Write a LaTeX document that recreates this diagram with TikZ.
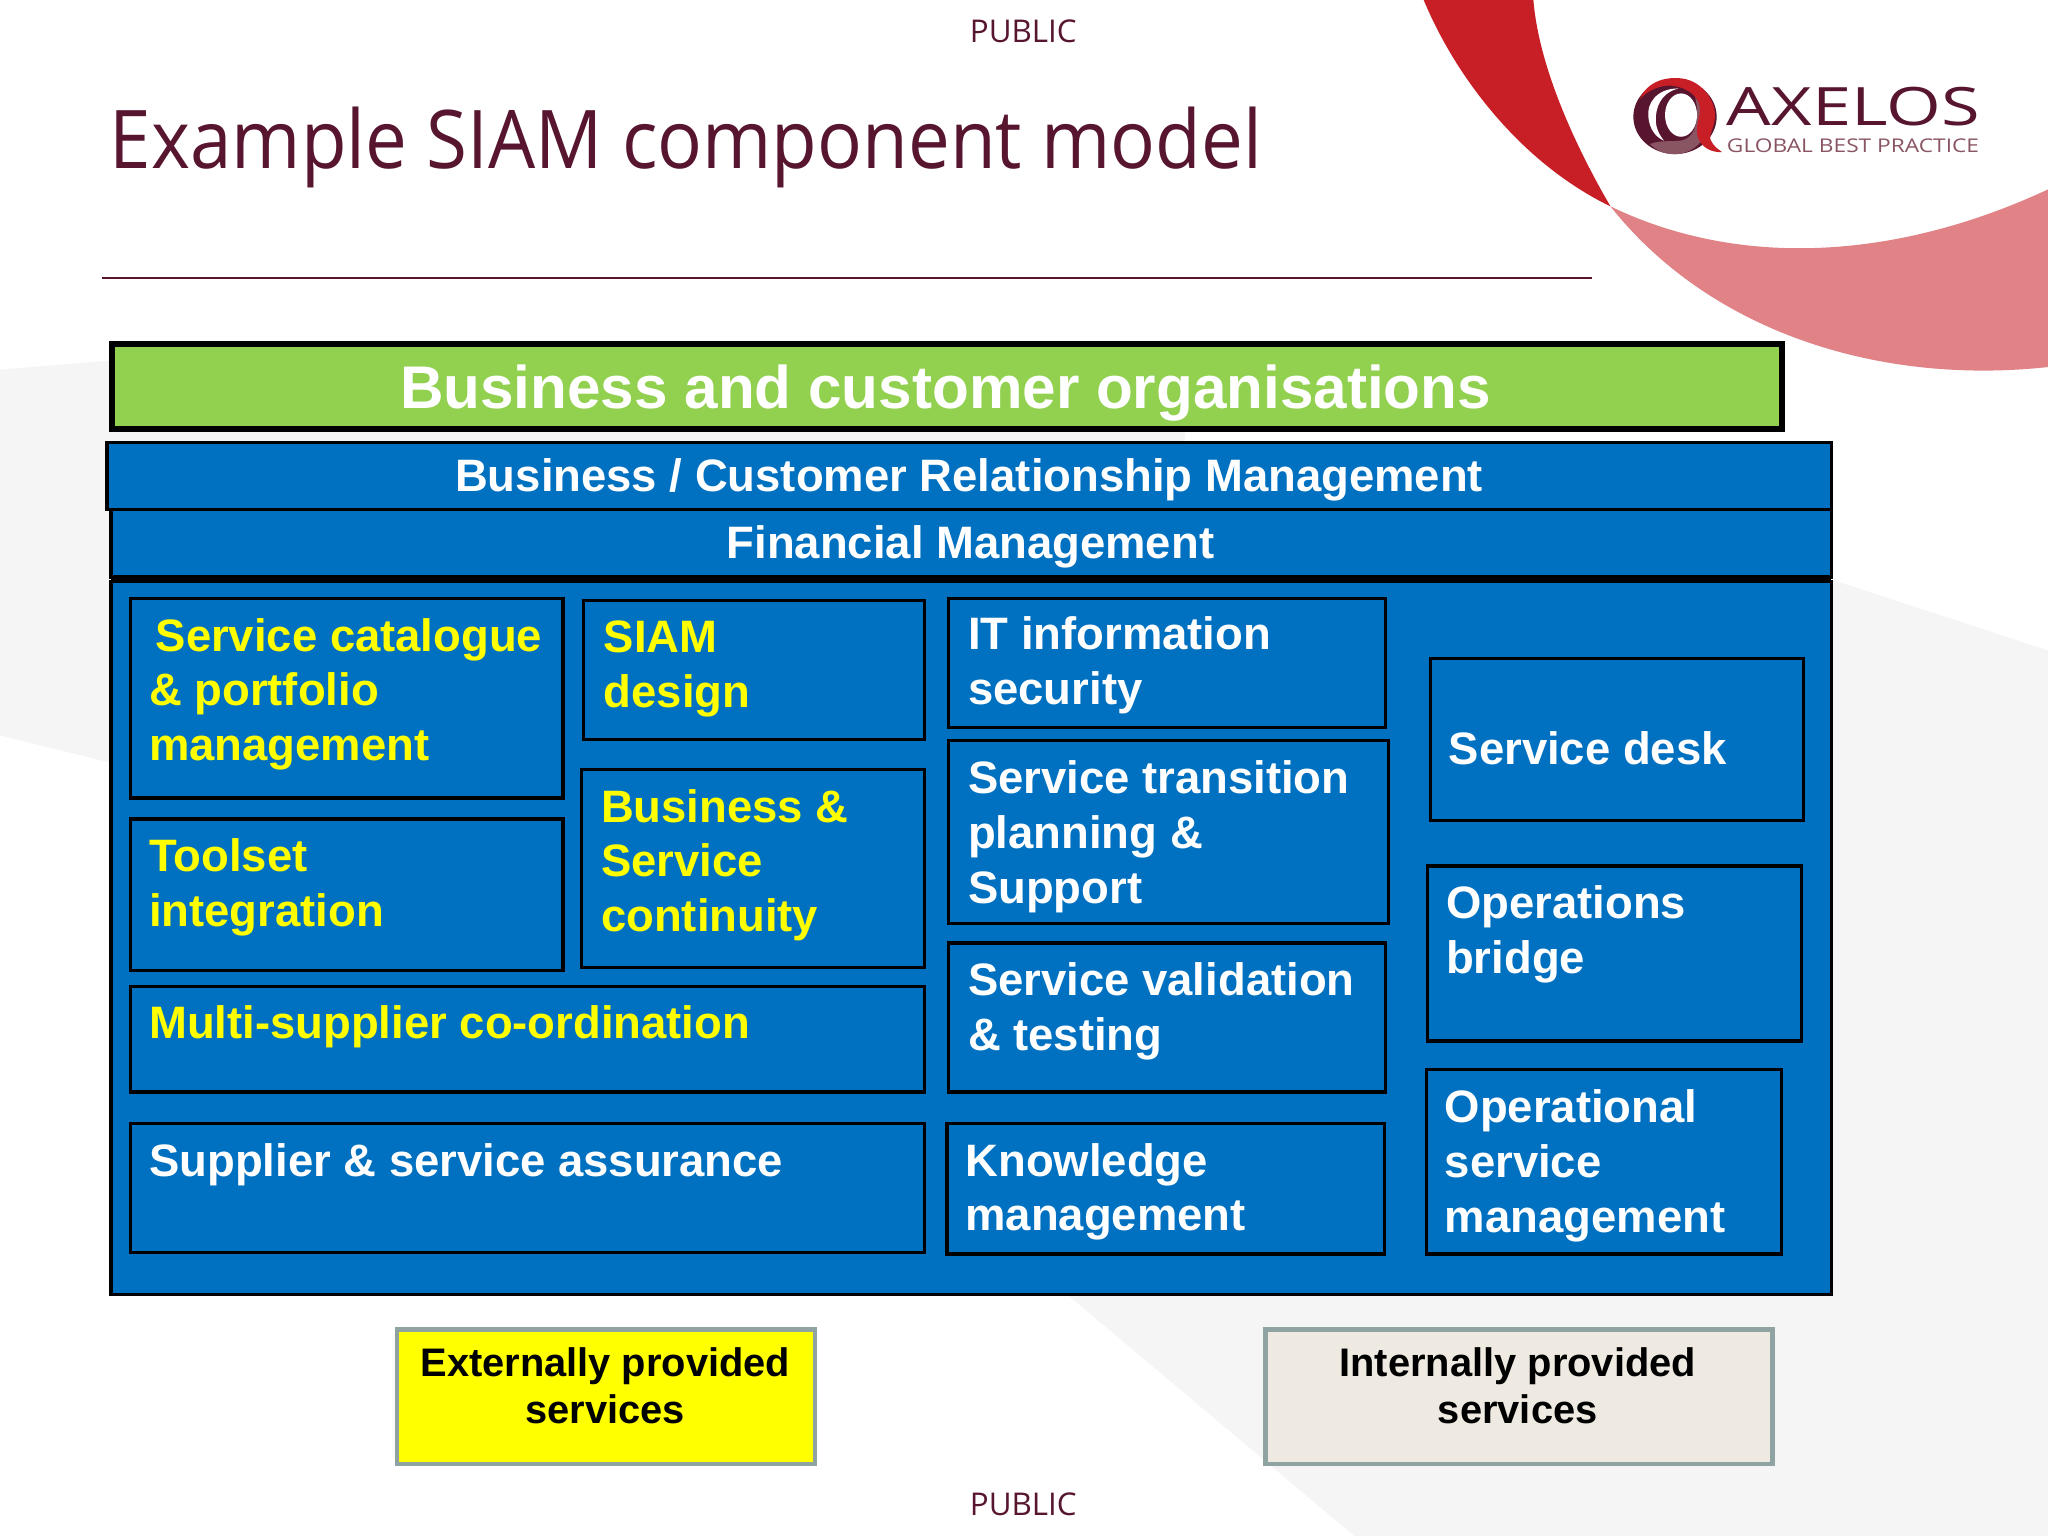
\documentclass[tikz,border=0pt]{standalone}
\usepackage{fontspec}
\setmainfont{Liberation Sans}
\newfontfamily\titlefont[FakeStretch=0.92]{Open Sans}
\newfontfamily\publicfont{Open Sans}
\newfontfamily\logofont[FakeStretch=1.33]{Open Sans}
\newfontfamily\logosubfont[FakeStretch=1.2]{Open Sans}
\definecolor{maroon}{HTML}{57152F}
\definecolor{swred}{HTML}{C81E26}
\definecolor{swpink}{HTML}{E08286}
\definecolor{ringmid}{HTML}{8A5563}
\definecolor{blue}{HTML}{0070C0}
\definecolor{leaf}{HTML}{92D050}
\definecolor{edgegrey}{HTML}{8FA3A3}
\definecolor{paper}{HTML}{EEEAE1}
\definecolor{faint}{HTML}{F5F5F5}
\definecolor{yel}{HTML}{FFFF00}
\tikzset{
 x=1pt,y=-1pt,
 panel/.style={draw=black,fill=blue,line width=2.5pt,rectangle,inner sep=0pt,outer sep=0pt},
 comp/.style={draw=black,fill=blue,line width=2.5pt,rectangle,inner sep=0pt,outer sep=0pt},
 lab/.style={anchor=north west,align=left,inner sep=0pt,font=\fontsize{34.8}{42}\selectfont\bfseries},
 headlab/.style={inner sep=0pt,text=white,font=\fontsize{34.8}{42}\selectfont\bfseries},
 legend/.style={draw=edgegrey,line width=3.5pt,rectangle,inner sep=0pt,outer sep=0pt},
 legendlab/.style={inner sep=0pt,align=center,font=\fontsize{30.5}{36.5}\selectfont\bfseries},
 public/.style={inner sep=0pt,text=maroon,font=\publicfont\fontsize{24}{28}\selectfont},
}
% name, x1, y1, x2, y2, text x, text top y, colour, text
\newcommand{\compbox}[9]{%
 \path let \p1=(#2,#3), \p2=(#4,#5) in
  node[comp,minimum width=\x2-\x1,minimum height=\y1-\y2,anchor=north west] (#1) at (\p1) {};
 \node[lab,text=#8] (#1-t) at (#6,#7) {#9};
}
\usetikzlibrary{calc}
\begin{document}
\begin{tikzpicture}
\useasboundingbox (0,0) rectangle (1568,1176);
\fill[white] (0,0) rectangle (1568,1176);
% faint background
\fill[faint] (0,283) -- (85,276) -- (85,584) -- (0,563) -- cycle;
\fill[faint] (85,326) rectangle (907,342);
\fill[faint] (817,991) -- (1403,991) -- (1403,444) -- (1568,498) -- (1568,1176) -- (1037,1176) -- cycle;
% swooshes
\fill[swred] (1090,0) .. controls (1115,60) and (1165,125) .. (1233,158)
  .. controls (1205,110) and (1178,50) .. (1174,0) -- cycle;
\fill[swpink] (1233,158) .. controls (1330,205) and (1450,200) .. (1568,145)
  -- (1568,281) .. controls (1440,295) and (1310,255) .. (1233,158) -- cycle;
% logo, drawn in the coordinates of a 3x crop
\begin{scope}[shift={(1225,46)},x=0.2552pt,y=-0.2552pt]
 \fill[maroon] (225,170) ellipse (125 and 112);
 \fill[ringmid] (150,252) .. controls (190,295) and (270,295) .. (310,235)
   .. controls (335,190) and (310,140) .. (285,110)
   .. controls (300,170) and (290,240) .. (235,242) .. controls (205,245) and (180,240) .. (150,252) -- cycle;
 \fill[white] (235,85) .. controls (170,85) and (140,130) .. (145,170)
   .. controls (148,205) and (165,230) .. (192,242)
   .. controls (170,215) and (165,190) .. (168,165)
   .. controls (172,125) and (195,95) .. (235,85) -- cycle;
 \fill[white] (243,165) ellipse (48 and 65);
 \fill[swred] (118,118) .. controls (145,60) and (200,50) .. (245,55)
   .. controls (305,62) and (345,120) .. (345,165)
   .. controls (345,200) and (325,225) .. (332,240)
   .. controls (340,258) and (355,268) .. (366,276)
   .. controls (335,278) and (300,262) .. (292,225)
   .. controls (285,185) and (310,160) .. (295,125)
   .. controls (280,90) and (225,70) .. (190,78)
   .. controls (160,84) and (135,100) .. (118,118) -- cycle;
\end{scope}
\node[inner sep=0pt,anchor=base west,text=maroon,font=\logofont\fontsize{40.5}{41}\selectfont] (axelos) at (1322,96) {AXELOS};
\node[inner sep=0pt,anchor=base west,text=ringmid,font=\logosubfont\fontsize{14.5}{15}\selectfont] (gbp) at (1322,116.5) {GLOBAL BEST PRACTICE};
% header
\node[public] (pubtop) at (783.5,24) {PUBLIC};
\node[public] (pubbot) at (783.5,1152) {PUBLIC};
\node[inner sep=0pt,anchor=base west,text=maroon,font=\titlefont\fontsize{62}{62}\selectfont] (title) at (84,129) {Example SIAM component model};
\coordinate (ruleL) at (78,213); \coordinate (ruleR) at (1219,213);
\draw[maroon,line width=1.3pt] (ruleL) -- (ruleR);
% frames
\node[draw=black,fill=leaf,line width=4.5pt,rectangle,inner sep=0pt,outer sep=0pt,minimum width=1279pt,minimum height=65pt,anchor=north west] (bco) at (85.5,263.5) {};
\node[inner sep=0pt,text=white,font=\fontsize{46.1}{50}\selectfont\bfseries] (bcot) at (724,301) {Business and customer organisations};
\node[panel,minimum width=1317pt,minimum height=546pt,anchor=north west] (main) at (85,445) {};
\node[panel,minimum width=1317pt,minimum height=52pt,anchor=north west] (fm) at (85,390) {};
\node[headlab] (fmt) at (743,419) {Financial Management};
\draw[black,line width=4pt] (fm.south west) -- (fm.south east);
\node[panel,minimum width=1320pt,minimum height=51pt,anchor=north west] (brm) at (82,339) {};
\node[headlab] (brmt) at (742,367) {Business / Customer Relationship Management};
% components
\compbox{scp}{100}{458}{431}{611}{114}{473}{yel}{\hspace*{5pt}Service catalogue\\\& portfolio\\management}
\compbox{design}{447}{460}{708}{566}{462}{475}{yel}{SIAM\\design}
\compbox{infosec}{726}{458}{1061}{557}{741}{472}{white}{IT information\\security}
\compbox{desk}{1095}{504}{1381}{628}{1109}{560}{white}{Service desk}
\compbox{toolset}{100}{627}{431}{743}{114}{642}{yel}{Toolset\\integration}
\compbox{bsc}{445}{589}{708}{741}{460}{604}{yel}{Business \&\\Service\\continuity}
\compbox{transition}{726}{567}{1063}{707}{741}{582}{white}{Service transition\\planning \&\\Support}
\compbox{bridge}{1093}{663}{1379}{797}{1107}{678}{white}{Operations\\bridge}
\compbox{multi}{100}{755}{708}{836}{114}{770}{yel}{Multi-supplier co-ordination}
\compbox{validation}{726}{722}{1061}{836}{741}{737}{white}{Service validation\\\& testing}
\compbox{assurance}{100}{860}{708}{959}{114}{875}{white}{Supplier \& service assurance}
\compbox{knowledge}{725}{860}{1060}{960}{739}{875}{white}{Knowledge\\management}
\compbox{opsmgmt}{1092}{819}{1364}{960}{1106}{834}{white}{Operational\\service\\management}
% legend
\node[legend,fill=yel,minimum width=320pt,minimum height=103pt,anchor=north west] (ext) at (304,1018) {};
\node[legendlab] (extt) at (463.5,1061) {Externally provided\\services};
\node[legend,fill=paper,minimum width=388pt,minimum height=103pt,anchor=north west] (int) at (969,1018) {};
\node[legendlab] (intt) at (1162,1061) {Internally provided\\services};
\end{tikzpicture}
\end{document}
